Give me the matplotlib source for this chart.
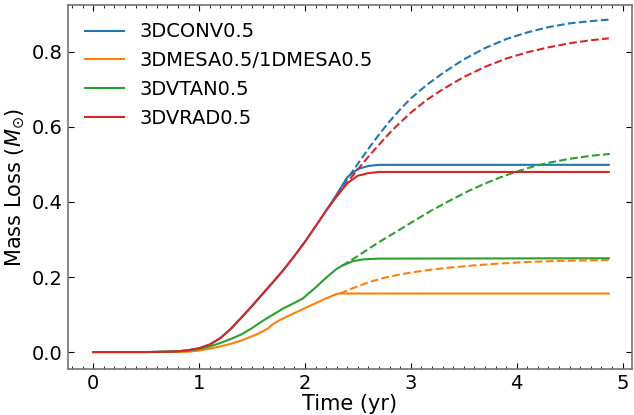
import matplotlib
matplotlib.use("Agg")
import matplotlib.pyplot as plt
from matplotlib.ticker import MultipleLocator

# ---- data ----
labels = ["3DCONV0.5", "3DMESA0.5/1DMESA0.5", "3DVTAN0.5", "3DVRAD0.5"]
colors = ["tab:blue", "tab:orange", "tab:green", "tab:red"]

# 3DCONV0.5
conv_t = [0.0, 0.5, 0.7, 0.8, 0.9, 1.0, 1.1, 1.2, 1.3, 1.4, 1.5, 1.6, 1.7, 1.8, 1.9, 2.0,
          2.1, 2.2, 2.3, 2.4, 2.5, 2.6, 2.7, 2.8, 4.87]
conv_m = [0.0, 0.0, 0.001, 0.002, 0.005, 0.010, 0.020, 0.037, 0.062, 0.092, 0.123, 0.155,
          0.187, 0.220, 0.256, 0.294, 0.335, 0.377, 0.420, 0.466, 0.488, 0.496, 0.499,
          0.499, 0.499]
conv_dt = [2.3, 2.4, 2.5, 2.6, 2.7, 2.8, 2.9, 3.0, 3.15, 3.3, 3.5, 3.7, 3.9, 4.1, 4.3,
           4.5, 4.7, 4.87]
conv_dm = [0.420, 0.462, 0.502, 0.542, 0.580, 0.615, 0.647, 0.676, 0.712, 0.743, 0.780,
           0.810, 0.834, 0.852, 0.866, 0.876, 0.882, 0.886]

# 3DMESA0.5/1DMESA0.5
mesa_t = [0.0, 0.5, 0.8, 0.9, 1.0, 1.1, 1.2, 1.3, 1.4, 1.5, 1.55, 1.6, 1.65, 1.7, 1.76,
          1.9, 2.0, 2.1, 2.2, 2.3, 2.33, 4.87]
mesa_m = [0.0, 0.0, 0.0, 0.001, 0.004, 0.009, 0.015, 0.022, 0.031, 0.042, 0.048, 0.055,
          0.063, 0.075, 0.085, 0.104, 0.117, 0.130, 0.143, 0.155, 0.156, 0.156]
mesa_dt = [2.33, 2.45, 2.6, 2.75, 2.9, 3.05, 3.2, 3.4, 3.6, 3.84, 4.1, 4.4, 4.87]
mesa_dm = [0.156, 0.170, 0.186, 0.198, 0.207, 0.214, 0.220, 0.226, 0.231, 0.236, 0.240,
           0.243, 0.245]

# 3DVTAN0.5
vtan_t = [0.0, 0.5, 0.7, 0.8, 0.9, 1.0, 1.1, 1.2, 1.3, 1.4, 1.5, 1.6, 1.7, 1.8, 1.9, 1.98,
          2.1, 2.2, 2.3, 2.35, 2.45, 2.55, 2.7, 4.87]
vtan_m = [0.0, 0.0, 0.001, 0.002, 0.004, 0.008, 0.015, 0.024, 0.035, 0.047, 0.064, 0.083,
          0.100, 0.117, 0.131, 0.143, 0.172, 0.198, 0.222, 0.230, 0.242, 0.247, 0.249, 0.250]
vtan_dt = [2.35, 2.5, 2.6, 2.74, 2.9, 3.05, 3.2, 3.37, 3.55, 3.7, 3.84, 4.0, 4.15, 4.31,
           4.5, 4.7, 4.88]
vtan_dm = [0.230, 0.256, 0.275, 0.300, 0.327, 0.353, 0.378, 0.404, 0.430, 0.449, 0.465,
           0.481, 0.494, 0.505, 0.515, 0.523, 0.528]

# 3DVRAD0.5
vrad_t = [0.0, 0.5, 0.7, 0.8, 0.9, 1.0, 1.1, 1.2, 1.3, 1.4, 1.5, 1.6, 1.7, 1.8, 1.9, 2.0,
          2.1, 2.2, 2.3, 2.4, 2.5, 2.6, 2.7, 2.8, 4.87]
vrad_m = [0.0, 0.0, 0.001, 0.002, 0.005, 0.010, 0.020, 0.037, 0.062, 0.092, 0.123, 0.155,
          0.187, 0.220, 0.256, 0.294, 0.335, 0.377, 0.415, 0.450, 0.470, 0.477, 0.480,
          0.480, 0.480]
vrad_dt = [2.3, 2.4, 2.5, 2.6, 2.7, 2.8, 2.9, 3.0, 3.15, 3.3, 3.5, 3.7, 3.9, 4.1, 4.3,
           4.5, 4.7, 4.87]
vrad_dm = [0.415, 0.452, 0.487, 0.521, 0.553, 0.584, 0.612, 0.638, 0.672, 0.700, 0.733,
           0.760, 0.782, 0.799, 0.812, 0.823, 0.831, 0.836]

xticks = [0, 1, 2, 3, 4, 5]
yticks = [0.0, 0.2, 0.4, 0.6, 0.8]

fig = plt.figure(figsize=(6.34, 4.15), dpi=100)
ax = fig.add_axes([0.107, 0.111, 0.890, 0.877])

solid = [(conv_t, conv_m), (mesa_t, mesa_m), (vtan_t, vtan_m), (vrad_t, vrad_m)]
dashed = [(conv_dt, conv_dm), (mesa_dt, mesa_dm), (vtan_dt, vtan_dm), (vrad_dt, vrad_dm)]

for (t, m), (dt, dm), lab, c in zip(solid, dashed, labels, colors):
    ax.plot(dt, dm, color=c, ls="--", lw=1.5)
    ax.plot(t, m, color=c, lw=1.5, label=lab)

ax.set_xlim(-0.24, 5.09)
ax.set_ylim(-0.045, 0.925)
ax.set_xticks(xticks)
ax.set_yticks(yticks)
ax.set_yticklabels([f"{v:.1f}" for v in yticks])
ax.xaxis.set_minor_locator(MultipleLocator(0.1))
ax.tick_params(which="both", direction="in", top=True, right=True, labelsize=14)
ax.tick_params(which="major", length=4)
ax.tick_params(which="minor", length=2)
for s in ax.spines.values():
    s.set_color("0.45")
    s.set_linewidth(1.2)

ax.set_xlabel("Time (yr)", fontsize=15, labelpad=1)
ax.set_ylabel(r"Mass Loss ($M_{\odot}$)", fontsize=15)
ax.legend(loc="upper left", frameon=False, fontsize=14, bbox_to_anchor=(0.0, 1.0))

fig.savefig("out.png", dpi=100)
